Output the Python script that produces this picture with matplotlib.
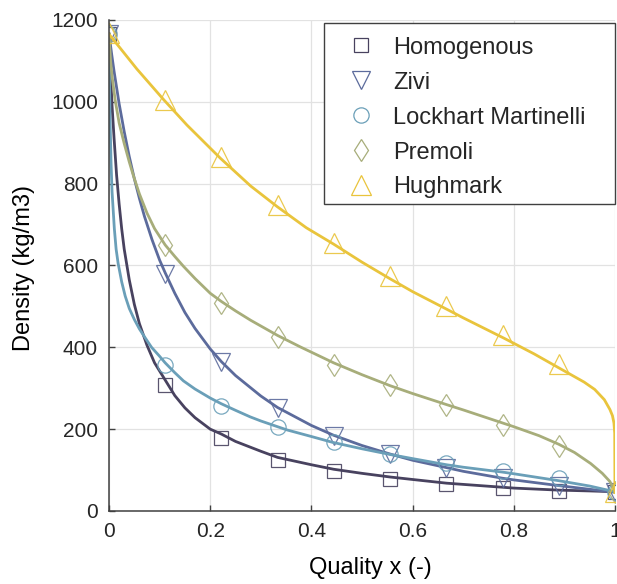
import matplotlib.pyplot as plt
from matplotlib.lines import Line2D
from matplotlib.patches import Rectangle

plt.rcParams['font.family'] = ['Liberation Sans', 'DejaVu Sans']
plt.rcParams['text.color'] = '#262626'

# Coarse evaluation points (markers)
QUALITY_PTS = [0.0, 0.111, 0.222, 0.333, 0.444, 0.556, 0.667, 0.778, 0.889, 1.0]
HOMOG_PTS   = [1165, 309, 178, 125, 97, 79, 66, 57, 50, 46]
ZIVI_PTS    = [1165, 578, 364, 252, 184, 139, 105, 80, 62, 46]
LM_PTS      = [1165, 357, 257, 206, 169, 139, 117, 98, 80, 46]
PREMOLI_PTS = [1165, 650, 508, 425, 357, 308, 259, 210, 160, 46]
HUGH_PTS    = [1168, 1005, 866, 748, 654, 573, 500, 430, 359, 46]

# Fine curves
HOMOG_X = [0, 0.003, 0.006, 0.01, 0.015, 0.02, 0.025, 0.03, 0.04, 0.05, 0.06, 0.075,
           0.09, 0.111, 0.13, 0.15, 0.17, 0.2, 0.222, 0.25, 0.3, 0.333, 0.4, 0.444,
           0.5, 0.556, 0.6, 0.667, 0.7, 0.778, 0.8, 0.889, 0.95, 1.0]
HOMOG_Y = [1165, 1070, 990, 910, 820, 750, 690, 640, 565, 505, 458, 405,
           362, 320, 282, 252, 228, 200, 188, 170, 146, 131, 113, 102,
           92, 83, 77, 68, 65, 58, 56, 51, 49, 47]

ZIVI_X = [0, 0.005, 0.01, 0.02, 0.03, 0.04, 0.05, 0.06, 0.07, 0.085, 0.1, 0.111,
          0.13, 0.15, 0.17, 0.2, 0.222, 0.25, 0.3, 0.333, 0.4, 0.444, 0.5, 0.556,
          0.6, 0.667, 0.7, 0.778, 0.8, 0.889, 0.95, 1.0]
ZIVI_Y = [1165, 1118, 1074, 995, 927, 866, 812, 764, 720, 663, 613, 582,
          532, 485, 446, 396, 365, 331, 281, 253, 209, 185, 160, 139,
          124, 106, 97, 80, 76, 62, 53, 46]

LM_X = [0, 0.0005, 0.001, 0.002, 0.004, 0.006, 0.0105, 0.014, 0.018, 0.025, 0.032,
        0.04, 0.05, 0.06, 0.071, 0.084, 0.1, 0.111, 0.13, 0.147, 0.17, 0.2, 0.222,
        0.25, 0.279, 0.3, 0.333, 0.352, 0.4, 0.441, 0.5, 0.556, 0.6, 0.667, 0.7,
        0.778, 0.8, 0.889, 0.95, 1.0]
LM_Y = [1165, 1100, 1040, 960, 850, 780, 690, 640, 605, 560, 525,
        495, 468, 445, 424, 400, 378, 362, 338, 318, 298, 276, 262,
        246, 230, 220, 206, 198, 182, 168, 152, 138, 128, 113, 107,
        95, 91, 74, 61, 47]

PREMOLI_X = [0, 0.003, 0.006, 0.012, 0.02, 0.03, 0.04, 0.048, 0.06, 0.075, 0.09,
             0.111, 0.13, 0.147, 0.17, 0.2, 0.222, 0.25, 0.28, 0.333, 0.378, 0.444,
             0.5, 0.556, 0.6, 0.667, 0.7, 0.778, 0.8, 0.85, 0.889, 0.92, 0.952,
             0.975, 0.99, 1.0]
PREMOLI_Y = [1165, 1100, 1062, 1005, 948, 898, 853, 820, 775, 728, 690,
             650, 622, 598, 568, 532, 512, 489, 466, 429, 401, 362,
             333, 306, 287, 260, 247, 215, 206, 184, 163, 143, 116,
             92, 72, 47]

HUGH_X = [0, 0.055, 0.108, 0.154, 0.22, 0.28, 0.332, 0.39, 0.444, 0.5, 0.556, 0.6,
          0.669, 0.7, 0.781, 0.84, 0.893, 0.939, 0.96, 0.979, 0.99, 0.995,
          0.998, 0.9995, 1.0]
HUGH_Y = [1165, 1080, 1005, 943, 862, 794, 744, 692, 652, 608, 567, 536,
          492, 472, 422, 384, 347, 315, 297, 272, 248, 233,
          215, 190, 45]

LABELS  = ['Homogenous', 'Zivi', 'Lockhart Martinelli', 'Premoli', 'Hughmark']
COLORS  = ['#48425f', '#5c6b9c', '#6a9fb8', '#a7ad7a', '#e9c43c']
MARKERS = ['s', 'v', 'o', 'd', '^']
MSIZES  = [9.5, 12.5, 11, 11.5, 14]

curves = [(HOMOG_X, HOMOG_Y), (ZIVI_X, ZIVI_Y), (LM_X, LM_Y),
          (PREMOLI_X, PREMOLI_Y), (HUGH_X, HUGH_Y)]
points = [HOMOG_PTS, ZIVI_PTS, LM_PTS, PREMOLI_PTS, HUGH_PTS]

fig = plt.figure(figsize=(6.17, 5.84), dpi=100)
ax = fig.add_axes([0.1767, 0.125, 0.82, 0.841])

handles = []
for (cx, cy), pts, col, mk, ms, lab in zip(curves, points, COLORS, MARKERS, MSIZES, LABELS):
    ax.plot(cx, cy, color=col, lw=2.0, solid_joinstyle='round')
    ax.plot(QUALITY_PTS, pts, ls='none', marker=mk, ms=ms, mfc='none',
            mec=col, mew=0.9, alpha=0.9)
    handles.append(Line2D([], [], ls='none', marker=mk, ms=ms, mfc='none',
                          mec=col, mew=0.9, label=lab))

ax.set_xlim(0, 1)
ax.set_ylim(0, 1200)
ax.set_xticks([0, 0.2, 0.4, 0.6, 0.8, 1])
ax.set_xticklabels(['0', '0.2', '0.4', '0.6', '0.8', '1'])
ax.set_yticks(range(0, 1201, 200))
ax.grid(True, color='#e2e2e2', lw=0.9)
ax.set_axisbelow(True)

for side in ('top', 'right'):
    ax.spines[side].set_visible(False)
for side in ('left', 'bottom'):
    ax.spines[side].set_color('#404040')
    ax.spines[side].set_linewidth(1.1)

ax.tick_params(direction='in', length=4, width=1, color='#404040',
               labelsize=15, labelcolor='#262626', pad=8)

ax.set_xlabel('Quality x (-)', fontsize=17)
ax.set_ylabel('Density (kg/m3)', fontsize=17)
ax.xaxis.set_label_coords(0.516, -0.094)
ax.yaxis.set_label_coords(-0.146, 0.494)

# legend box drawn separately so it can be wider than the entries need
box = Rectangle((0.425, 0.625), 0.575, 0.3687, transform=ax.transAxes,
                facecolor='white', edgecolor='#404040', lw=1.0,
                zorder=4.5, clip_on=False)
ax.add_patch(box)
leg = ax.legend(handles=handles, loc='upper left', bbox_to_anchor=(0.4704, 0.966),
                borderaxespad=0, borderpad=0, fontsize=17, frameon=False,
                handlelength=1.2, handletextpad=0.75, labelspacing=0.55)
leg.set_zorder(6)

fig.savefig('out.png', dpi=100)
